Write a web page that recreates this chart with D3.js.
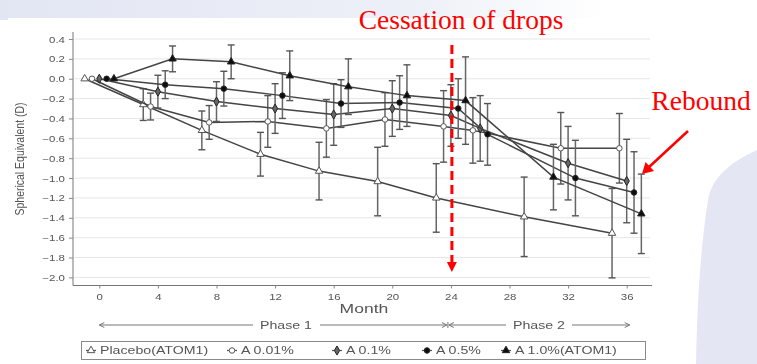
<!DOCTYPE html>
<html>
<head>
<meta charset="utf-8">
<script src="https://cdn.jsdelivr.net/npm/d3@7"></script>
<style>
  html, body { margin: 0; padding: 0; background: #fff; }
  svg { display: block; }
</style>
</head>
<body>
<svg id="chart" width="757" height="364"></svg>
<script>
// ---- data: mean change in spherical equivalent (D) with error half-widths ----
const yTicks = [0.4, 0.2, 0.0, -0.2, -0.4, -0.6, -0.8, -1.0, -1.2, -1.4, -1.6, -1.8, -2.0];
const xTicks = [0, 4, 8, 12, 16, 20, 24, 28, 32, 36];

const atom1Months = [0, 4, 8, 12, 16, 20, 24, 30, 36];
const atom2Months = [0, 4, 8, 12, 16, 20, 24, 26, 32, 36];

const placeboMean = [0, -0.26, -0.52, -0.76, -0.93, -1.035, -1.20, -1.39, -1.555];
const placeboErr  = [0, 0.16, 0.195, 0.22, 0.29, 0.345, 0.345, 0.40, 0.45];

const a001Mean = [0, -0.28, -0.44, -0.43, -0.50, -0.41, -0.48, -0.52, -0.70, -0.70];
const a001Err  = [0, 0.135, 0.17, 0.26, 0.29, 0.27, 0.36, 0.33, 0.36, 0.35];

const a01Mean = [0, -0.13, -0.23, -0.30, -0.36, -0.30, -0.37, -0.50, -0.85, -1.03];
const a01Err  = [0, 0.165, 0.20, 0.25, 0.31, 0.28, 0.31, 0.33, 0.37, 0.42];

const a05Mean = [0, -0.06, -0.10, -0.17, -0.25, -0.24, -0.30, -0.56, -1.00, -1.145];
const a05Err  = [0, 0.14, 0.175, 0.23, 0.24, 0.27, 0.30, 0.31, 0.38, 0.41];

const a1Mean = [0, 0.20, 0.17, 0.03, -0.08, -0.17, -0.22, -0.99, -1.36];
const a1Err  = [0, 0.13, 0.17, 0.25, 0.28, 0.31, 0.44, 0.33, 0.40];

const seriesNames = ["Placebo(ATOM1)", "A 0.01%", "A 0.1%", "A 0.5%", "A 1.0%(ATOM1)"];

// series table (dodge = horizontal offset in months so error bars don't overlap)
const series = [
  { name: seriesNames[0], months: atom1Months, mean: placeboMean, err: placeboErr, dodge: -1,   shape: "triangle", fill: "#fff" },
  { name: seriesNames[1], months: atom2Months, mean: a001Mean,    err: a001Err,    dodge: -0.5, shape: "circle",   fill: "#fff" },
  { name: seriesNames[2], months: atom2Months, mean: a01Mean,     err: a01Err,     dodge: 0,    shape: "diamond",  fill: "#666" },
  { name: seriesNames[3], months: atom2Months, mean: a05Mean,     err: a05Err,     dodge: 0.5,  shape: "circle",   fill: "#111" },
  { name: seriesNames[4], months: atom1Months, mean: a1Mean,      err: a1Err,      dodge: 1,    shape: "triangle", fill: "#111" }
];

// ---- layout ----
const svg = d3.select("#chart");
const W = 757, H = 364;
const SX = 1.35;                 // horizontal stretch of the chart lettering
const FONT = "'Liberation Sans', Arial, sans-serif";
const TXT = "#555";

const x = d3.scaleLinear().domain([0, 36]).range([99.3, 626.7]);
const y = d3.scaleLinear().domain([-2, 0.4]).range([277.4, 39]);

// ---- slide backdrop ----
const defs = svg.append("defs");
const g1 = defs.append("linearGradient").attr("id", "topband").attr("x1", 0).attr("x2", 1);
g1.append("stop").attr("offset", 0).attr("stop-color", "#e2e6f3");
g1.append("stop").attr("offset", 0.55).attr("stop-color", "#eef0f8");
g1.append("stop").attr("offset", 0.8).attr("stop-color", "#ffffff");
defs.append("filter").attr("id", "soft")
  .append("feGaussianBlur").attr("stdDeviation", 0.45);

svg.append("rect").attr("width", W).attr("height", H).attr("fill", "#fff");
svg.append("rect").attr("x", 0).attr("y", 0).attr("width", W).attr("height", 20).attr("fill", "url(#topband)");
svg.append("path")
  .attr("d", "M757,150 C735,160 712,175 708,200 C700,250 697,310 696,364 L757,364 Z")
  .attr("fill", "#e4e7f3");
// white chart panel
svg.append("rect").attr("x", 8).attr("y", 18).attr("width", 682).attr("height", H - 18).attr("fill", "#fff");

const chart = svg.append("g").attr("filter", "url(#soft)");

function stretchedText(parent, tx, ty, str, size, anchor, extra) {
  return parent.append("text")
    .attr("transform", `translate(${tx},${ty}) scale(${SX},1)` + (extra || ""))
    .attr("text-anchor", anchor)
    .attr("font-family", FONT)
    .attr("font-size", size)
    .attr("fill", TXT)
    .text(str);
}

// gridlines
chart.append("g").selectAll("line").data(yTicks).join("line")
  .attr("x1", 74).attr("x2", 650)
  .attr("y1", d => y(d)).attr("y2", d => y(d))
  .attr("stroke", "#e6e6e6").attr("stroke-width", 1);

// y axis
const yAxis = chart.append("g").attr("transform", "translate(73,0)")
  .call(d3.axisLeft(y).tickValues(yTicks).tickSize(4).tickFormat(d3.format(".1f")));
yAxis.select(".domain").attr("d", `M0,32V285.5`).attr("stroke", "#777");
yAxis.selectAll(".tick line").attr("stroke", "#888");
yAxis.selectAll(".tick text").remove();
yAxis.selectAll(".tick").each(function (d) {
  stretchedText(d3.select(this), -8, 3, d3.format(".1f")(d), 8.5, "end");
});

// x axis
const xAxis = chart.append("g").attr("transform", "translate(0,285.5)")
  .call(d3.axisBottom(x).tickValues(xTicks).tickSize(3));
xAxis.select(".domain").attr("d", "M73,0H652").attr("stroke", "#777");
xAxis.selectAll(".tick line").attr("stroke", "#888");
xAxis.selectAll(".tick text").remove();
xAxis.selectAll(".tick").each(function (d) {
  stretchedText(d3.select(this), 0, 14, String(d), 8.5, "middle");
});

// axis titles
stretchedText(chart, 364, 313, "Month", 13, "middle");
chart.append("text")
  .attr("transform", "translate(24,159) scale(1.2,1) rotate(-90)")
  .attr("text-anchor", "middle")
  .attr("font-family", FONT).attr("font-size", 10.5).attr("fill", TXT)
  .text("Spherical Equivalent (D)");

// markers
const symbolType = { circle: d3.symbolCircle, diamond: d3.symbolDiamond, triangle: d3.symbolTriangle };
function drawMarker(sel, s) {
  sel.append("path")
    .attr("d", d3.symbol().type(symbolType[s.shape]).size(24))
    .attr("fill", s.fill)
    .attr("stroke", s.fill === "#fff" ? "#555" : "#222")
    .attr("stroke-width", 1);
}

const line = d3.line().x(d => x(d.m)).y(d => y(d.v));

series.forEach(s => {
  const pts = s.months.map((m, i) => ({ m: m + s.dodge, v: s.mean[i], e: s.err[i] }));
  const g = chart.append("g");
  // error bars
  const eb = g.selectAll("g.eb").data(pts.filter(p => p.e > 0)).join("g");
  eb.append("line")
    .attr("x1", d => x(d.m)).attr("x2", d => x(d.m))
    .attr("y1", d => y(d.v + d.e)).attr("y2", d => y(d.v - d.e))
    .attr("stroke", "#666").attr("stroke-width", 1.5);
  [1, -1].forEach(sg => {
    eb.append("line")
      .attr("x1", d => x(d.m) - 3.5).attr("x2", d => x(d.m) + 3.5)
      .attr("y1", d => y(d.v + sg * d.e)).attr("y2", d => y(d.v + sg * d.e))
      .attr("stroke", "#555").attr("stroke-width", 1.4);
  });
  s.pts = pts;
  s.g = g;
});

series.forEach(s => {
  s.g.append("path").datum(s.pts)
    .attr("d", line).attr("fill", "none")
    .attr("stroke", "#444").attr("stroke-width", 1.5);
});
series.forEach(s => {
  s.g.selectAll("g.mk").data(s.pts).join("g")
    .attr("transform", d => `translate(${x(d.m)},${y(d.v)})`)
    .each(function () { drawMarker(d3.select(this), s); });
});

// phase arrows
const py = 325;
const ph = chart.append("g").attr("stroke", "#777").attr("stroke-width", 1).attr("fill", "none");
function arrowHead(px, dir) {
  ph.append("path").attr("d", `M${px + dir * -5},${py - 2.5}L${px},${py}L${px + dir * -5},${py + 2.5}`);
}
const p0 = x(0), p24 = x(24), p36 = x(36);
ph.append("line").attr("x1", p0).attr("x2", 253).attr("y1", py).attr("y2", py);
arrowHead(p0, -1);
ph.append("line").attr("x1", 320).attr("x2", p24 - 4).attr("y1", py).attr("y2", py);
arrowHead(p24 - 4, 1);
ph.append("line").attr("x1", p24 - 3).attr("x2", p24 - 3).attr("y1", py - 3).attr("y2", py + 3);
arrowHead(p24 - 2, -1);
ph.append("line").attr("x1", p24 - 2).attr("x2", 506).attr("y1", py).attr("y2", py);
ph.append("line").attr("x1", 572).attr("x2", p36 + 3).attr("y1", py).attr("y2", py);
arrowHead(p36 + 3, 1);
stretchedText(chart, 286, py + 4, "Phase 1", 10.5, "middle");
stretchedText(chart, 539, py + 4, "Phase 2", 10.5, "middle");

// legend
const lg = chart.append("g");
lg.append("rect").attr("x", 81.5).attr("y", 341.5).attr("width", 564).attr("height", 18)
  .attr("fill", "#fff").attr("stroke", "#8a8a8a").attr("stroke-width", 1);
const legendX = [91, 232, 337, 427, 506];
series.forEach((s, i) => {
  const item = lg.append("g").attr("transform", `translate(${legendX[i]},350.5)`);
  item.append("line").attr("x1", -5).attr("x2", 5).attr("stroke", "#555").attr("stroke-width", 1.2);
  drawMarker(item, s);
  stretchedText(item, 9, 3.5, s.name, 10.5, "start");
});

// ---- annotations ----
const red = "#ff0000";
const ann = svg.append("g");
ann.append("line")
  .attr("x1", x(24) + 1).attr("x2", x(24) + 1).attr("y1", 45).attr("y2", 263)
  .attr("stroke", red).attr("stroke-width", 3).attr("stroke-dasharray", "9,5");
ann.append("path")
  .attr("d", `M${x(24) + 1 - 5},262L${x(24) + 1 + 5},262L${x(24) + 1},272Z`)
  .attr("fill", red);
ann.append("text").attr("x", 461).attr("y", 29).attr("text-anchor", "middle")
  .attr("font-family", "'Liberation Serif', 'Times New Roman', serif")
  .attr("font-size", 27.5).attr("fill", red).text("Cessation of drops");
ann.append("text").attr("x", 701).attr("y", 110).attr("text-anchor", "middle")
  .attr("font-family", "'Liberation Serif', 'Times New Roman', serif")
  .attr("font-size", 27.5).attr("fill", red).text("Rebound");
ann.append("line").attr("x1", 688).attr("y1", 131).attr("x2", 648).attr("y2", 168)
  .attr("stroke", red).attr("stroke-width", 2.5);
ann.append("path").attr("d", "M642,174L645.5,162L654,171Z").attr("fill", red);
</script>
</body>
</html>
